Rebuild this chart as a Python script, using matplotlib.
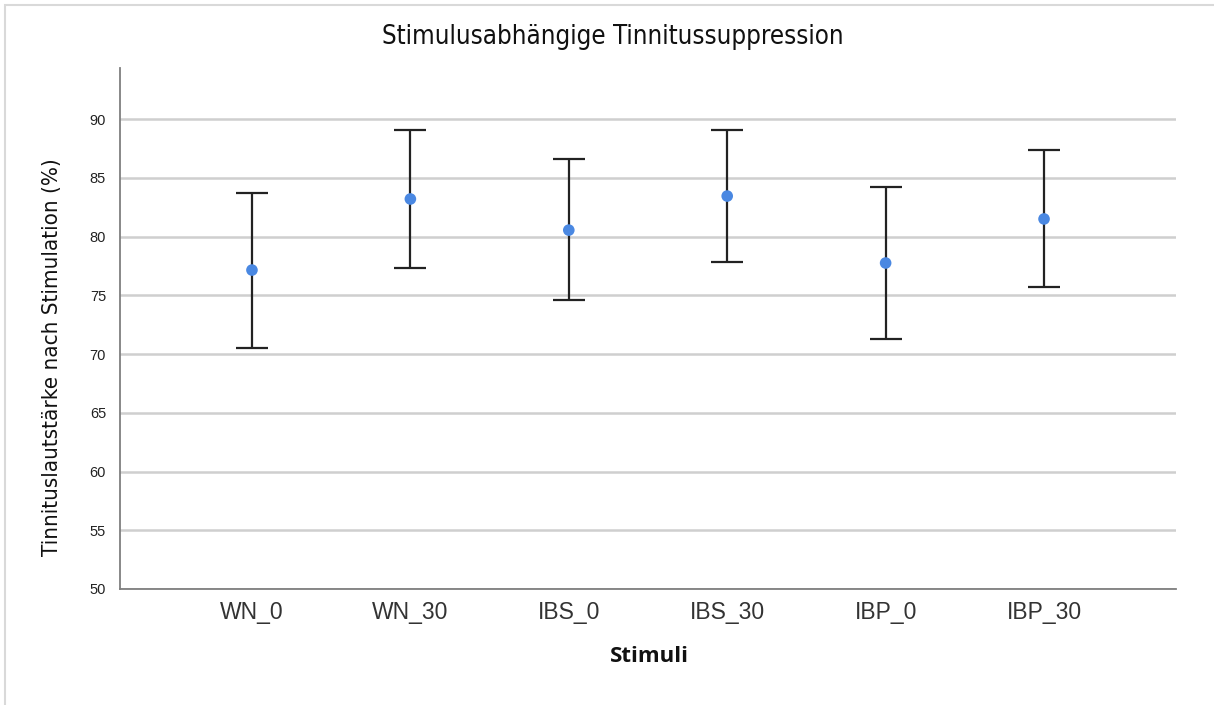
import matplotlib
matplotlib.use("Agg")
import matplotlib.pyplot as plt
from matplotlib.patches import Rectangle

# Stimuli and means with error bar bounds
stimuli = ['WN_0', 'WN_30', 'IBS_0', 'IBS_30', 'IBP_0', 'IBP_30']
means = [77.15, 83.2, 80.55, 83.45, 77.75, 81.5]
upper = [83.7, 89.1, 86.6, 89.1, 84.2, 87.4]
lower = [70.5, 77.3, 74.6, 77.8, 71.3, 75.7]
yticks = [50, 55, 60, 65, 70, 75, 80, 85, 90]

fig = plt.figure(figsize=(12.14, 7.05), dpi=100)
ax = fig.add_axes([120 / 1214, 1 - 589 / 705, 1056 / 1214, (589 - 68) / 705])

# light frame around the whole picture
fig.patches.append(Rectangle((5 / 1214, -0.01), 1.02, 1 - 5 / 705 + 0.01,
                             transform=fig.transFigure, fill=False,
                             edgecolor='#d9d9d9', linewidth=1.5))

x = list(range(len(stimuli)))
err_lo = [m - l for m, l in zip(means, lower)]
err_hi = [u - m for m, u in zip(means, upper)]

ax.errorbar(x, means, yerr=[err_lo, err_hi], fmt='none', ecolor='#222222',
            elinewidth=1.6, capsize=11.5, capthick=1.6, zorder=3)
ax.scatter(x, means, s=70, color='#4a88e2', edgecolors='none', zorder=4)

ax.set_xlim(-0.833, 5.833)
ax.set_ylim(50, 94.35)
ax.set_yticks(yticks)
ax.set_xticks(x)
ax.set_xticklabels(stimuli, fontsize=16.5, family='Liberation Sans', color='#333333')
ax.tick_params(axis='y', labelsize=10.5, length=0, pad=10, colors='#222222')
ax.tick_params(axis='x', length=0, pad=9)
for lab in ax.get_yticklabels():
    lab.set_family('Liberation Sans')

ax.grid(axis='y', color='#cfcfcf', linewidth=1.8)
ax.set_axisbelow(True)
for s in ['top', 'right']:
    ax.spines[s].set_visible(False)
for s in ['left', 'bottom']:
    ax.spines[s].set_color('#7f7f7f')
    ax.spines[s].set_linewidth(1.3)

fig.text(613 / 1214, 1 - 37 / 705, 'Stimulusabhängige Tinnitussuppression',
         ha='center', va='center', fontsize=18.5, fontstretch='condensed',
         family='DejaVu Sans', color='#111111')
fig.text(649 / 1214, 1 - 657 / 705, 'Stimuli', ha='center', va='center',
         fontsize=16, fontweight='bold', family=['Open Sans', 'DejaVu Sans'], color='#111111')
fig.text(52 / 1214, 1 - 357 / 705, 'Tinnituslautstärke nach Stimulation (%)',
         ha='center', va='center', rotation=90, fontsize=16, fontstretch='condensed',
         family='DejaVu Sans', color='#111111')

fig.savefig('out.png', dpi=100)
